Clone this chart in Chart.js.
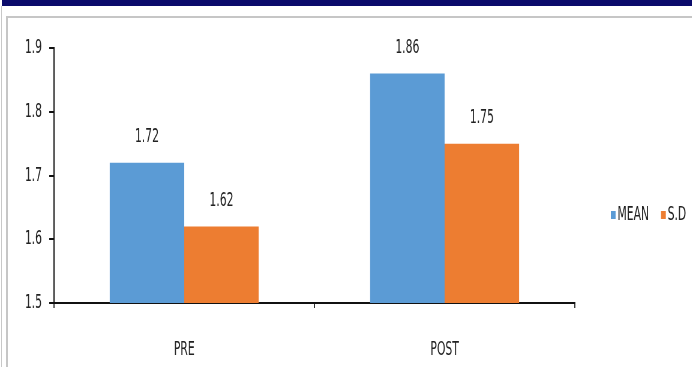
<html>
  <head>
    <title>PRE / POST Bar Chart</title>
    <script src="https://cdn.jsdelivr.net/npm/chart.js"></script>
    <style type="text/css">
      html, body { margin: 0; padding: 0; background: #fff; }
      #wrap { position: relative; width: 692px; height: 367px; overflow: hidden; }
      /* frame pieces copied from the screenshot */
      #topbar { position: absolute; left: 2px; top: 0; width: 690px; height: 6px; background: #0b0b6b; }
      #leftline { position: absolute; left: 1px; top: 6px; width: 1px; height: 361px; background: #c8c8c8; }
      #frame { position: absolute; left: 6px; top: 16px; width: 700px; height: 400px; border: 2px solid #c6c6c6; }
      /* the source image is squeezed sideways, so draw wide and squeeze */
      #squeeze { position: absolute; left: 0; top: 0; width: 1153px; height: 367px;
                 transform: scaleX(0.6); transform-origin: 0 0; }
    </style>
  </head>
  <body>
    <div id="wrap">
      <div id="topbar"></div>
      <div id="leftline"></div>
      <div id="frame"></div>
      <div id="squeeze">
        <canvas id="barChart" width="1153" height="367"></canvas>
      </div>
    </div>
    <script>
      // data
      var categories = ['PRE', 'POST'];
      var meanValues = [1.72, 1.86];
      var sdValues = [1.62, 1.75];
      var yTickLabels = ['1.5', '1.6', '1.7', '1.8', '1.9'];

      var FONT = "'DejaVu Sans Condensed', 'DejaVu Sans', sans-serif";
      var FSIZE = 20;

      // value labels above each bar
      var valueLabels = {
        id: 'valueLabels',
        afterDatasetsDraw: function(chart) {
          var ctx = chart.ctx;
          ctx.save();
          ctx.font = FSIZE + 'px ' + FONT;
          ctx.fillStyle = '#222';
          ctx.textAlign = 'center';
          ctx.textBaseline = 'middle';
          chart.data.datasets.forEach(function(ds, i) {
            chart.getDatasetMeta(i).data.forEach(function(bar, j) {
              ctx.fillText(ds.data[j].toFixed(2), bar.x, bar.y - 26);
            });
          });
          ctx.restore();
        }
      };

      // small legend on the right, drawn by hand
      var sideLegend = {
        id: 'sideLegend',
        afterDraw: function(chart) {
          var ctx = chart.ctx;
          ctx.save();
          ctx.font = FSIZE + 'px ' + FONT;
          ctx.textBaseline = 'middle';
          var x = 1018, y = 215;
          chart.data.datasets.forEach(function(ds) {
            ctx.fillStyle = ds.backgroundColor;
            ctx.fillRect(x, y - 4, 8, 8);
            ctx.fillStyle = '#222';
            ctx.fillText(ds.label, x + 11, y);
            x += 11 + ctx.measureText(ds.label).width + 20;
          });
          ctx.restore();
        }
      };

      var ctx = document.getElementById('barChart').getContext('2d');
      new Chart(ctx, {
        type: 'bar',
        data: {
          labels: categories,
          datasets: [
            { label: 'MEAN', data: meanValues, backgroundColor: '#5b9bd5' },
            { label: 'S.D', data: sdValues, backgroundColor: '#ed7d31' }
          ]
        },
        options: {
          responsive: false,
          animation: false,
          devicePixelRatio: 1,
          layout: { padding: { top: 48, right: 195, bottom: 0, left: 0 } },
          datasets: { bar: { barPercentage: 1, categoryPercentage: 0.572 } },
          plugins: { legend: { display: false }, tooltip: { enabled: false } },
          scales: {
            x: {
              afterFit: function(s) { s.height = 64; },
              grid: { drawOnChartArea: false, drawTicks: true, tickLength: 5, color: '#333', lineWidth: 2, offset: true },
              border: { color: '#111', width: 2 },
              ticks: { color: '#222', padding: 30, font: { family: FONT, size: FSIZE } }
            },
            y: {
              min: 1.5,
              max: 1.9,
              afterFit: function(s) { s.width = 90; },
              grid: { drawOnChartArea: false, drawTicks: true, tickLength: 8, color: '#111', lineWidth: 2 },
              border: { color: '#111', width: 2 },
              ticks: {
                stepSize: 0.1,
                color: '#222',
                padding: 12,
                font: { family: FONT, size: FSIZE },
                callback: function(v, i) { return yTickLabels[i]; }
              }
            }
          }
        },
        plugins: [valueLabels, sideLegend]
      });
    </script>
  </body>
</html>
